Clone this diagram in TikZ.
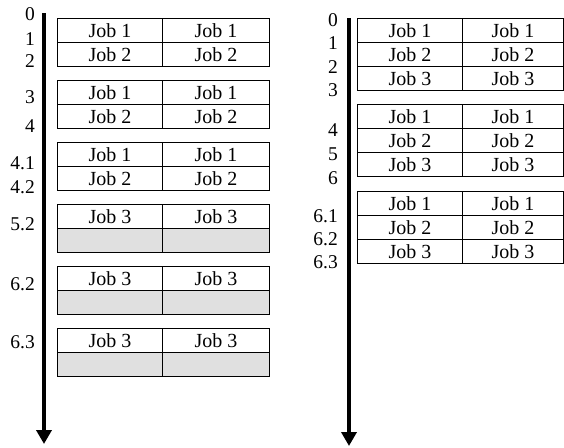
\documentclass[tikz,border=0pt]{standalone}
\usepackage{fontspec}
\setmainfont{Liberation Serif}
\usetikzlibrary{arrows.meta}
\begin{document}
\begin{tikzpicture}[x=1pt,y=-1pt,
  cell/.style={draw, line width=1.2pt, minimum height=24pt, inner sep=0pt,
    anchor=north west, font=\fontsize{20}{20}\selectfont},
  blank/.style={cell, fill=black!12},
  tick/.style={anchor=east, inner sep=0pt, font=\fontsize{19.5}{19.5}\selectfont},
  timeline/.style={line width=4.2pt, -{Triangle[length=14pt,width=15pt]}}]
\useasboundingbox (0,0) rectangle (564,447);

% ---- left schedule: two jobs per slot, then job 3 alone ----
\foreach \g/\y in {1/18, 2/80, 3/142} {
  \node[cell, minimum width=105pt] (La\g) at (57,\y) {Job 1};
  \node[cell, minimum width=107pt] (Lb\g) at (162,\y) {Job 1};
  \node[cell, minimum width=105pt] (Lc\g) at (57,\y+24) {Job 2};
  \node[cell, minimum width=107pt] (Ld\g) at (162,\y+24) {Job 2};
}
\foreach \g/\y in {4/204, 5/266, 6/328} {
  \node[cell, minimum width=105pt] (La\g) at (57,\y) {Job 3};
  \node[cell, minimum width=107pt] (Lb\g) at (162,\y) {Job 3};
  \node[blank, minimum width=105pt] (Lc\g) at (57,\y+24) {};
  \node[blank, minimum width=107pt] (Ld\g) at (162,\y+24) {};
}

% time marks, left
\foreach \t/\y [count=\i] in {0/14, 1/39, 2/61, 3/97, 4/126, 4.1/163, 4.2/187, 5.2/224, 6.2/284, 6.3/342}
  \node[tick] (Lt\i) at (35,\y) {\t};

\coordinate (Lstart) at (44,13);
\coordinate (Lend) at (44,444);
\draw[timeline] (Lstart) -- (Lend);

% ---- right schedule: three jobs per slot ----
\foreach \g/\y in {1/18, 2/104, 3/191} {
  \node[cell, minimum width=105pt] (Ra\g) at (357,\y) {Job 1};
  \node[cell, minimum width=101pt] (Rb\g) at (462,\y) {Job 1};
  \node[cell, minimum width=105pt] (Rc\g) at (357,\y+24) {Job 2};
  \node[cell, minimum width=101pt] (Rd\g) at (462,\y+24) {Job 2};
  \node[cell, minimum width=105pt] (Re\g) at (357,\y+48) {Job 3};
  \node[cell, minimum width=101pt] (Rf\g) at (462,\y+48) {Job 3};
}

% time marks, right
\foreach \t/\y [count=\i] in {0/20, 1/43, 2/67, 3/90, 4/130, 5/154, 6/178, 6.1/216, 6.2/239, 6.3/262}
  \node[tick] (Rt\i) at (338,\y) {\t};

\coordinate (Rstart) at (349,18);
\coordinate (Rend) at (349,446);
\draw[timeline] (Rstart) -- (Rend);
\end{tikzpicture}
\end{document}
